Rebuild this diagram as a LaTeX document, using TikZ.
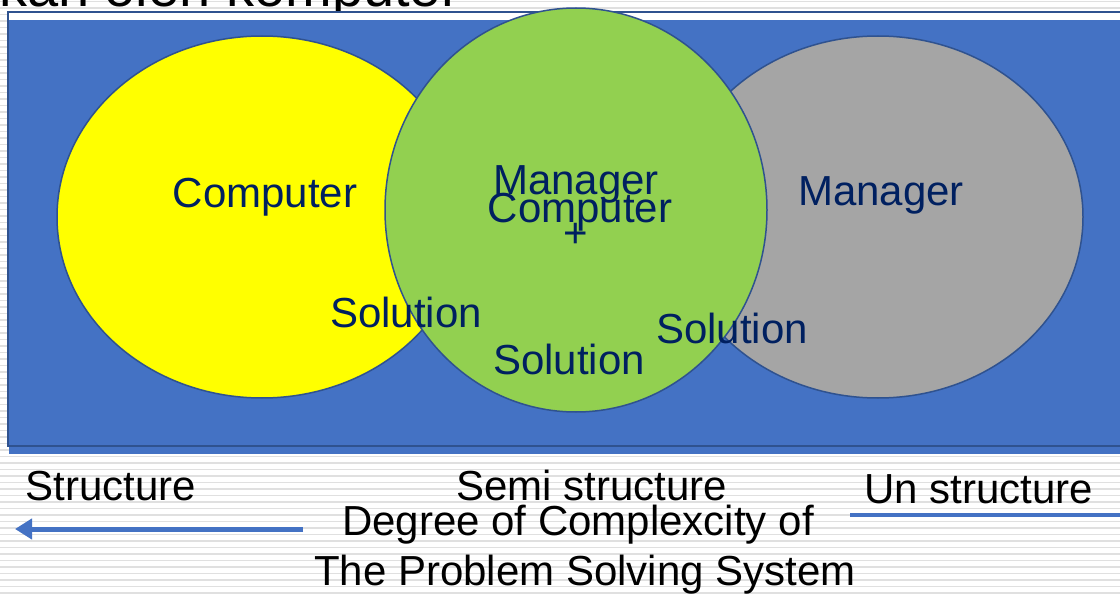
\documentclass[tikz,border=0pt]{standalone}
\usepackage{fontspec}
\setmainfont{Liberation Sans}
\usetikzlibrary{arrows.meta}
\definecolor{slideblue}{HTML}{4472C4}
\definecolor{edgeblue}{HTML}{2F528F}
\definecolor{navy}{HTML}{002060}
\definecolor{leaf}{HTML}{92D050}
\definecolor{stone}{HTML}{A5A5A5}
\definecolor{lemon}{HTML}{FFFF00}
\definecolor{stripe}{HTML}{E0E0E0}
\tikzset{
  bigtext/.style={inner sep=0pt, anchor=base, font=\fontsize{42}{42}\selectfont},
  inlabel/.style={bigtext, text=navy},
  outlabel/.style={bigtext, text=black},
  blob/.style={draw=edgeblue, line width=1.5pt},
  axisline/.style={slideblue, line width=5pt},
}
\begin{document}
\begin{tikzpicture}[x=1pt, y=-1pt]
\useasboundingbox (0,0) rectangle (1120,594);
% striped slide background
\fill[white] (0,0) rectangle (1120,594);
\foreach \yy in {1.5,8,...,594}
  \draw[stripe, line width=1.8pt] (0,\yy) -- (1120,\yy);
% title line running off the top edge
\node[outlabel, anchor=base east, font=\fontsize{56}{56}\selectfont] (title) at (460,7) {ikan oleh komputer};
% panel
\fill[white] (8,12) rectangle (1126,446);
\fill[slideblue] (9,20) rectangle (1126,454);
\draw[edgeblue, line width=1.5pt] (8,12) rectangle (1126,446);
% three overlapping regions
\fill[lemon] (262,217) ellipse [x radius=205, y radius=181];
\draw[blob] (262,217) ellipse [x radius=205, y radius=181];
\fill[stone] (878,217) ellipse [x radius=205, y radius=181];
\draw[blob] (878,217) ellipse [x radius=205, y radius=181];
\fill[leaf] (576,210) ellipse [x radius=191, y radius=202];
\draw[blob] (576,210) ellipse [x radius=191, y radius=202];
% labels inside the regions
\node[inlabel] (compL) at (265,207) {Computer};
\node[inlabel] (mgrM) at (576,194) {Manager};
\node[inlabel] (compM) at (580,222) {Computer};
\node[inlabel] (plus) at (576,247) {+};
\node[inlabel] (mgrR) at (881,205) {Manager};
\node[inlabel] (solL) at (406,327) {Solution};
\node[inlabel] (solM) at (569,374) {Solution};
\node[inlabel] (solR) at (732,343) {Solution};
% scale below the panel
\node[outlabel] (structure) at (111,500) {Structure};
\node[outlabel] (semi) at (592,500) {Semi structure};
\node[outlabel] (unstruct) at (979,503) {Un structure};
\node[outlabel] (degree) at (578,535) {Degree of Complexcity of};
\node[outlabel] (system) at (585,585) {The Problem Solving System};
\coordinate (arrowstart) at (303,529);
\coordinate (arrowend) at (15,529);
\coordinate (linestart) at (850,515);
\coordinate (lineend) at (1122,515);
\draw[axisline, -{Triangle[length=17pt, width=20pt]}] (arrowstart) -- (arrowend);
\draw[slideblue, line width=3.5pt] (linestart) -- (lineend);
\end{tikzpicture}
\end{document}
